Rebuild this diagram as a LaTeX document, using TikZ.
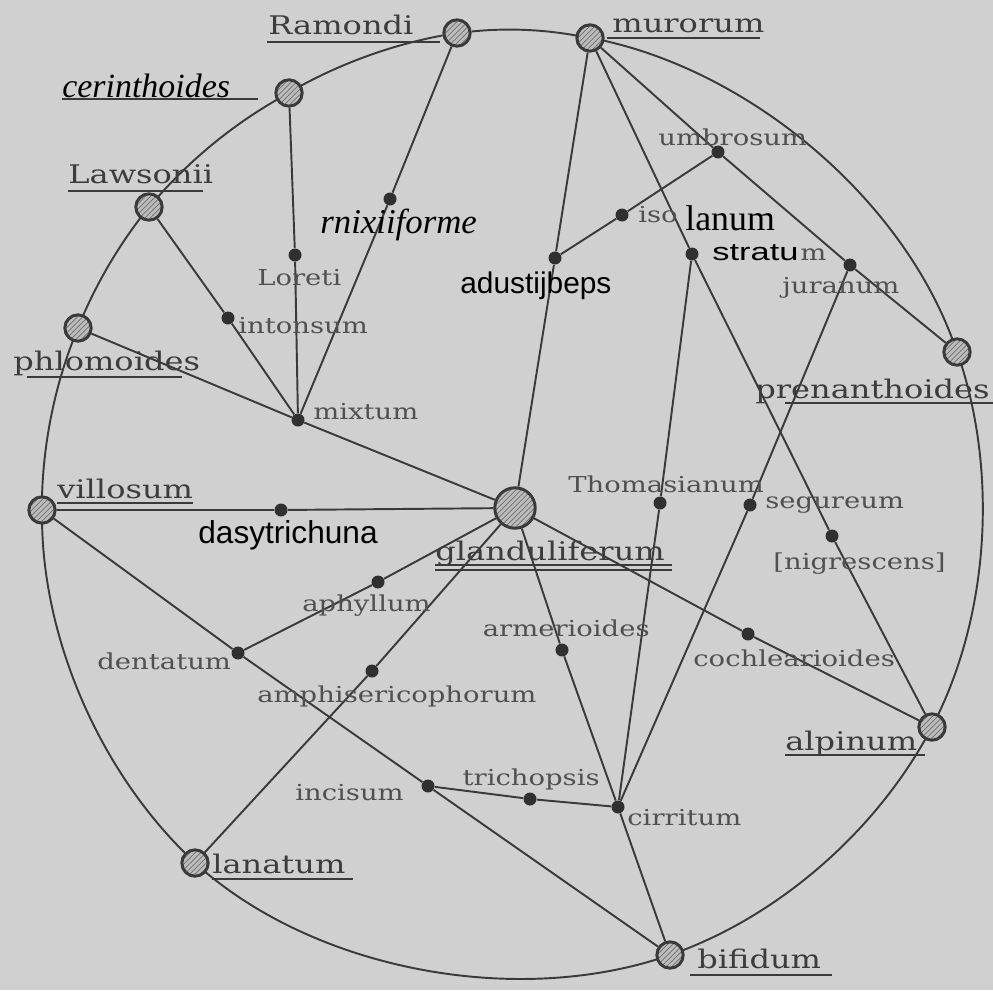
\documentclass[tikz,border=0pt]{standalone}
\usepackage{fontspec}
\setmainfont{DejaVu Serif}
\newfontfamily\typefont[FakeStretch=1.25]{DejaVu Serif}
\newfontfamily\timesfont{Liberation Serif}
\newfontfamily\helvfont{Liberation Sans}
\newfontfamily\widehelv[FakeStretch=1.4]{Liberation Sans}
\usetikzlibrary{patterns, backgrounds}
\definecolor{paper}{HTML}{D0D0D0}
\definecolor{inkcol}{HTML}{3A3A3A}
\definecolor{labcol}{HTML}{3C3C3C}
\definecolor{sublab}{HTML}{505050}
\definecolor{hatchbg}{HTML}{BDBDBD}
\definecolor{hatchcol}{HTML}{6E6E6E}
\definecolor{dotcol}{HTML}{303030}

\begin{document}
\begin{tikzpicture}[x=0.02cm, y=0.02cm,
  ink/.style={draw=inkcol, line width=1.1pt},
  rim/.style={ink, looseness=0.85},
  uline/.style={draw=inkcol, line width=0.9pt},
  bigspec/.style={circle, draw=inkcol, line width=1.7pt, minimum size=15pt, inner sep=0pt,
    preaction={fill=hatchbg}, pattern=north east lines, pattern color=hatchcol},
  smalldot/.style={circle, fill=dotcol, minimum size=7.4pt, inner sep=0pt},
  mainlbl/.style={font=\typefont\fontsize{14.6}{16}\selectfont, text=labcol, inner sep=0pt, anchor=base west},
  sublbl/.style={font=\typefont\fontsize{12.5}{14}\selectfont, text=sublab, inner sep=0pt, anchor=base west}]
  \useasboundingbox (0,0) rectangle (993,-990);

  % species with hatched circles
  \node[bigspec] (Ramondi)  at (457,-33)  {};
  \node[bigspec] (murorum)  at (590,-38)  {};
  \node[bigspec] (cerinth)  at (289,-93)  {};
  \node[bigspec] (Lawsonii) at (149,-207) {};
  \node[bigspec] (phlomo)   at (78,-328)  {};
  \node[bigspec] (prenanth) at (957,-352) {};
  \node[bigspec] (villosum) at (42,-510)  {};
  \node[bigspec, minimum size=23pt] (gland) at (515,-508) {};
  \node[bigspec] (alpinum)  at (932,-727) {};
  \node[bigspec] (lanatum)  at (195,-863) {};
  \node[bigspec] (bifidum)  at (670,-955) {};

  % intermediate forms
  \node[smalldot] (mnix)     at (390,-199) {};
  \node[smalldot] (Loreti)   at (295,-255) {};
  \node[smalldot] (intonsum) at (228,-318) {};
  \node[smalldot] (mixtum)   at (298,-420) {};
  \node[smalldot] (umbrosum) at (718,-152) {};
  \node[smalldot] (isolanum) at (622,-215) {};
  \node[smalldot] (adust)    at (555,-258) {};
  \node[smalldot] (stratum)  at (692,-254) {};
  \node[smalldot] (juranum)  at (850,-265) {};
  \node[smalldot] (dasy)     at (281,-510) {};
  \node[smalldot] (aphyllum) at (378,-582) {};
  \node[smalldot] (dentatum) at (238,-653) {};
  \node[smalldot] (amphiser) at (372,-671) {};
  \node[smalldot] (incisum)  at (428,-786) {};
  \node[smalldot] (trichop)  at (530,-799) {};
  \node[smalldot] (cirritum) at (618,-807) {};
  \node[smalldot] (armer)    at (562,-650) {};
  \node[smalldot] (thomas)   at (660,-503) {};
  \node[smalldot] (segur)    at (750,-505) {};
  \node[smalldot] (nigresc)  at (832,-536) {};
  \node[smalldot] (cochlear) at (748,-634) {};

  \begin{scope}[on background layer]
    \fill[paper] (0,0) rectangle (993,-990);
    \draw[rim] (Ramondi) to[bend left=8] (murorum) to[bend left=30.5] (prenanth)
      to[bend left=23.4] (alpinum) to[bend left=21.6] (bifidum) to[bend left=30.7] (lanatum)
      to[bend left=24] (villosum) to[bend left=11.4] (phlomo) to[bend left=8.5] (Lawsonii)
      to[bend left=11] (cerinth) to[bend left=10.7] (Ramondi);
    \draw[ink] (Ramondi) -- (mnix) -- (mixtum);
    \draw[ink] (cerinth) -- (Loreti) -- (mixtum);
    \draw[ink] (Lawsonii) -- (intonsum) -- (mixtum);
    \draw[ink] (phlomo) -- (mixtum) -- (gland);
    \draw[ink] (villosum) -- (dasy) -- (gland);
    \draw[ink] (villosum) -- (dentatum) -- (incisum) -- (bifidum);
    \draw[ink] (dentatum) -- (aphyllum) -- (gland);
    \draw[ink] (lanatum) -- (amphiser) -- (gland);
    \draw[ink] (incisum) -- (trichop) -- (cirritum) -- (bifidum);
    \draw[ink] (gland) -- (armer) -- (cirritum);
    \draw[ink] (cirritum) -- (thomas) -- (stratum);
    \draw[ink] (cirritum) -- (segur) -- (juranum);
    \draw[ink] (gland) -- (cochlear) -- (alpinum);
    \draw[ink] (alpinum) -- (nigresc) -- (stratum) -- (murorum);
    \draw[ink] (murorum) -- (adust) -- (gland);
    \draw[ink] (adust) -- (isolanum) -- (umbrosum);
    \draw[ink] (murorum) -- (umbrosum) -- (juranum) -- (prenanth);
  \end{scope}

  % labels of the main species, underlined
  \node[mainlbl] (lRamondi) at (268,-35)  {Ramondi};
  \node[mainlbl] (lmurorum) at (612,-33)  {murorum};
  \node[mainlbl] (lLawsonii) at (68,-183) {Lawsonii};
  \node[mainlbl] (lphlomo)  at (13,-370)  {phlomoides};
  \node[mainlbl] (lvillosum) at (57,-498) {villosum};
  \node[mainlbl] (lgland)   at (435,-560) {glanduliferum};
  \node[mainlbl, anchor=base east] (lprenanth) at (990,-398) {prenanthoides};
  \node[mainlbl] (lalpinum) at (785,-750) {alpinum};
  \node[mainlbl] (llanatum) at (212,-873) {lanatum};
  \node[mainlbl] (lbifidum) at (697,-968) {bifidum};
  \node[mainlbl, font=\timesfont\itshape\fontsize{19.3}{22}\selectfont, text=black] (lcerinth) at (62,-97) {cerinthoides};
  \draw[uline] (267,-42) -- (440,-42);
  \draw[uline] (607,-38) -- (760,-38);
  \draw[uline] (62,-99) -- (258,-99);
  \draw[uline] (68,-191) -- (203,-191);
  \draw[uline] (27,-377) -- (182,-377);
  \draw[uline] (57,-503) -- (193,-503);
  \draw[uline] (435,-565) -- (672,-565);
  \draw[uline] (435,-570) -- (672,-570);
  \draw[uline] (785,-403) -- (993,-403);
  \draw[uline] (785,-755) -- (925,-755);
  \draw[uline] (212,-879) -- (353,-879);
  \draw[uline] (690,-975) -- (832,-975);

  % labels of the intermediate forms
  \node[sublbl] (lLoreti)   at (257,-285) {Loreti};
  \node[sublbl] (lintonsum) at (238,-333) {intonsum};
  \node[sublbl] (lmixtum)   at (313,-419) {mixtum};
  \node[sublbl] (lumbrosum) at (658,-145) {umbrosum};
  \node[sublbl] (liso)      at (638,-222) {iso};
  \node[sublbl] (ljuranum)  at (782,-293) {juranum};
  \node[sublbl] (laphyllum) at (302,-611) {aphyllum};
  \node[sublbl] (ldentatum) at (97,-669)  {dentatum};
  \node[sublbl] (lamphiser) at (257,-702) {amphisericophorum};
  \node[sublbl] (lincisum)  at (295,-800) {incisum};
  \node[sublbl, anchor=base east] (ltrichop) at (600,-785) {trichopsis};
  \node[sublbl, anchor=base east] (larmer)   at (650,-636) {armerioides};
  \node[sublbl] (lthomas)   at (568,-492) {Thomasianum};
  \node[sublbl] (lsegur)    at (765,-508) {segureum};
  \node[sublbl] (lnigresc)  at (773,-569) {[nigrescens]};
  \node[sublbl] (lcochlear) at (693,-666) {cochlearioides};
  \node[sublbl] (lcirritum) at (627,-825) {cirritum};
  \node[sublbl] (lstratm)   at (800,-260) {m};
  \node[sublbl, font=\timesfont\itshape\fontsize{19.8}{22}\selectfont, text=black] (lmnix) at (320,-233) {rnixiiforme};
  \node[sublbl, font=\timesfont\fontsize{20.4}{22}\selectfont, text=black] (llanum) at (685,-230) {lanum};
  \node[sublbl, font=\widehelv\fontsize{14}{16}\selectfont, text=black] (lstratu) at (712,-260) {stratu};
  \node[sublbl, font=\helvfont\fontsize{17}{19}\selectfont, text=black] (ladust) at (460,-293) {adustijbeps};
  \node[sublbl, font=\helvfont\fontsize{18}{20}\selectfont, text=black] (ldasy) at (198,-543) {dasytrichuna};
\end{tikzpicture}
\end{document}
